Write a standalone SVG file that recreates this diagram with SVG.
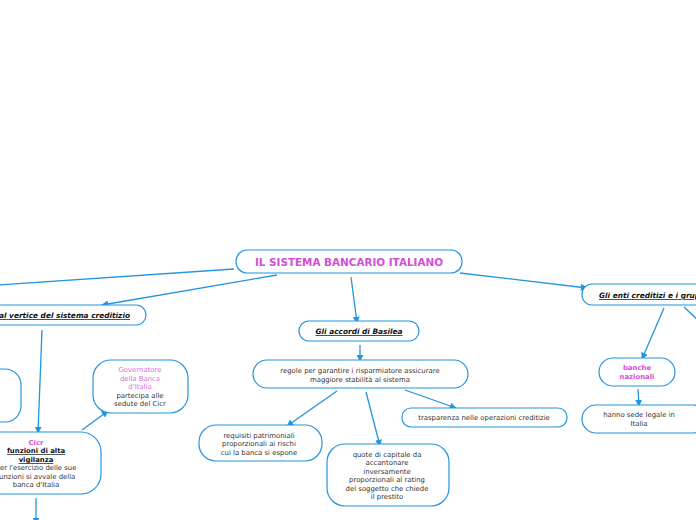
<svg xmlns="http://www.w3.org/2000/svg" width="696" height="520" viewBox="0 0 696 520">
<style>
.n{fill:#fff;stroke:#2294e0;stroke-width:1.2}
.t{font-family:"DejaVu Sans",Verdana,sans-serif;font-size:6.9px;fill:#333;text-anchor:middle}
.h{font-family:"DejaVu Sans",Verdana,sans-serif;font-size:7.4px;font-weight:bold;font-style:italic;text-decoration:underline;fill:#111}
.m{fill:#d34ed8}
.c{stroke:#2294e0;stroke-width:1.3;fill:none}
</style>
<defs>
<marker id="a" viewBox="0 0 10 10" refX="9" refY="5" markerWidth="7" markerHeight="7" markerUnits="userSpaceOnUse" orient="auto">
<path d="M0,0 L10,5 L0,10 z" fill="#2294e0"/>
</marker>
</defs>
<rect width="696" height="520" fill="#fff"/>
<g id="connectors">
<line class="c" x1="234" y1="269" x2="-2" y2="285"/>
<line class="c" x1="277" y1="275" x2="102" y2="305" marker-end="url(#a)"/>
<line class="c" x1="351" y1="277" x2="357" y2="323" marker-end="url(#a)"/>
<line class="c" x1="460" y1="273" x2="587" y2="288" marker-end="url(#a)"/>
<line class="c" x1="42" y1="330" x2="38" y2="433" marker-end="url(#a)"/>
<line class="c" x1="82" y1="430" x2="108" y2="411" marker-end="url(#a)"/>
<line class="c" x1="36" y1="498" x2="36" y2="524" marker-end="url(#a)"/>
<line class="c" x1="360" y1="345" x2="360" y2="361" marker-end="url(#a)"/>
<line class="c" x1="337" y1="391" x2="287" y2="426" marker-end="url(#a)"/>
<line class="c" x1="366" y1="392" x2="380" y2="446" marker-end="url(#a)"/>
<line class="c" x1="405" y1="390" x2="456" y2="408" marker-end="url(#a)"/>
<line class="c" x1="664" y1="308" x2="642" y2="359" marker-end="url(#a)"/>
<line class="c" x1="684" y1="307" x2="700" y2="322"/>
<line class="c" x1="638" y1="389" x2="639" y2="406" marker-end="url(#a)"/>
</g>
<g id="title">
<rect class="n" x="236" y="250" width="226" height="23" rx="11"/>
<text x="349" y="266" style="font-family:'DejaVu Sans',Verdana,sans-serif;font-size:10.4px;font-weight:bold;text-anchor:middle" class="m">IL SISTEMA BANCARIO ITALIANO</text>
</g>
<g id="vertice">
<rect class="n" x="-60" y="305" width="206" height="20" rx="10"/>
<text class="h" x="130" y="318" text-anchor="end">al vertice del sistema creditizio</text>
</g>
<g id="basilea">
<rect class="n" x="299" y="321" width="120" height="20" rx="10"/>
<text class="h" x="359" y="334" text-anchor="middle">Gli accordi di Basilea</text>
</g>
<g id="enti">
<rect class="n" x="582" y="284" width="160" height="21" rx="10"/>
<text class="h" x="599" y="298">Gli enti creditizi e i gruppi</text>
</g>
<g id="regole">
<rect class="n" x="253" y="360" width="215" height="28" rx="14"/>
<text class="t" x="360" y="373">regole per garantire i risparmiatore assicurare</text>
<text class="t" x="360" y="382">maggiore stabilità al sistema</text>
</g>
<g id="trasparenza">
<rect class="n" x="402" y="408" width="165" height="19" rx="9"/>
<text class="t" x="484" y="420">trasparenza nelle operazioni creditizie</text>
</g>
<g id="requisiti">
<rect class="n" x="199" y="425" width="123" height="36" rx="17"/>
<text class="t" x="259" y="438">requisiti patrimoniali</text>
<text class="t" x="259" y="446">proporzionali ai rischi</text>
<text class="t" x="259" y="455">cui la banca si espone</text>
</g>
<g id="quote">
<rect class="n" x="327" y="444" width="122" height="62" rx="18"/>
<text class="t" x="387" y="457">quote di capitale da</text>
<text class="t" x="387" y="465">accantonare</text>
<text class="t" x="387" y="474">inversamente</text>
<text class="t" x="387" y="482">proporzionali al rating</text>
<text class="t" x="387" y="491">del soggetto che chiede</text>
<text class="t" x="387" y="499">il prestito</text>
</g>
<g id="governatore">
<rect class="n" x="93" y="360" width="95" height="53" rx="18"/>
<text class="t" x="140" y="372" style="fill:#d66ee0">Governatore</text>
<text class="t" x="140" y="381" style="fill:#d66ee0">della Banca</text>
<text class="t" x="140" y="389" style="fill:#d66ee0">d'Italia</text>
<text class="t" x="140" y="398">partecipa alle</text>
<text class="t" x="140" y="406">sedute del Cicr</text>
</g>
<g id="left-node">
<rect class="n" x="-60" y="369" width="81" height="53" rx="16"/>
</g>
<g id="cicr">
<rect class="n" x="-40" y="432" width="141" height="62" rx="20"/>
<text class="t m" x="36" y="445" style="font-weight:bold">Cicr</text>
<text class="t" x="36" y="453" style="font-weight:bold;text-decoration:underline;fill:#111">funzioni di alta </text>
<text class="t" x="36" y="462" style="font-weight:bold;text-decoration:underline;fill:#111">vigilanza </text>
<text class="t" x="36" y="470">per l'esercizio delle sue</text>
<text class="t" x="36" y="479">funzioni si avvale della</text>
<text class="t" x="36" y="487">banca d'Italia</text>
</g>
<g id="banche">
<rect class="n" x="599" y="358" width="76" height="28" rx="14"/>
<text class="t m" x="637" y="370" style="font-weight:bold">banche </text>
<text class="t m" x="637" y="379" style="font-weight:bold">nazionali</text>
</g>
<g id="sede">
<rect class="n" x="582" y="405" width="125" height="28" rx="14"/>
<text class="t" x="639" y="417">hanno sede legale in</text>
<text class="t" x="639" y="426">Italia</text>
</g>
</svg>
